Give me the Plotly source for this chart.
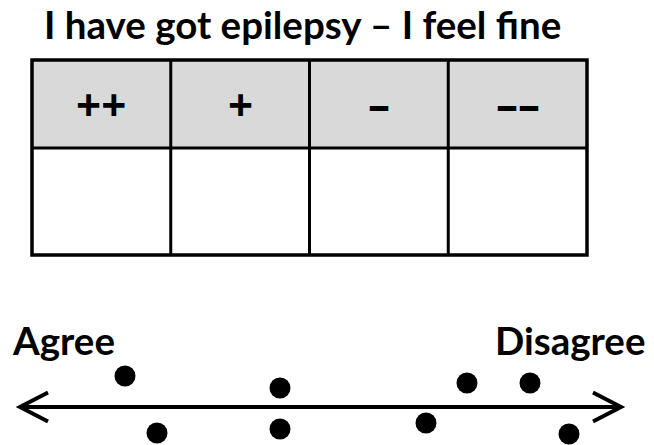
import plotly.graph_objects as go

# ---- data ----
title_text = "I have got epilepsy – I feel fine"
column_labels = ["++", "+", "–", "––"]
scale_labels = ["Agree", "Disagree"]
# responses placed along the Agree -> Disagree line (x) and above/below it (y)
dot_x = [125, 157, 280, 280, 426, 467, 530, 569]
dot_y = [376, 433, 388, 429, 423, 383, 383, 434]

# ---- layout constants ----
W, H = 654, 445
FONT = "Lato"
SYM_FONT = "Open Sans"
TABLE_L, TABLE_R = 32, 587
TABLE_T, TABLE_MID, TABLE_B = 60, 148, 255
ARROW_Y, ARROW_L, ARROW_R = 407, 20, 621
HEAD_DX, HEAD_DY = 28, 14.5

fig = go.Figure()

shapes = []
shapes.append(dict(type="rect", x0=TABLE_L, x1=TABLE_R, y0=TABLE_T, y1=TABLE_MID,
                   fillcolor="#d9d9d9", line=dict(width=0), layer="below"))
ncol = len(column_labels)
cw = (TABLE_R - TABLE_L) / ncol
for i in range(1, ncol):
    xx = TABLE_L + i * cw
    shapes.append(dict(type="line", x0=xx, x1=xx, y0=TABLE_T, y1=TABLE_B,
                       line=dict(color="black", width=3)))
shapes.append(dict(type="line", x0=TABLE_L, x1=TABLE_R, y0=TABLE_MID, y1=TABLE_MID,
                   line=dict(color="black", width=3)))
shapes.append(dict(type="rect", x0=TABLE_L, x1=TABLE_R, y0=TABLE_T, y1=TABLE_B,
                   line=dict(color="black", width=3.5)))

shapes.append(dict(type="line", x0=ARROW_L + 2, x1=ARROW_R - 2, y0=ARROW_Y, y1=ARROW_Y,
                   line=dict(color="black", width=4)))
shapes.append(dict(type="path",
                   path=f"M {ARROW_L+HEAD_DX} {ARROW_Y-HEAD_DY} L {ARROW_L} {ARROW_Y} L {ARROW_L+HEAD_DX} {ARROW_Y+HEAD_DY}",
                   line=dict(color="black", width=4)))
shapes.append(dict(type="path",
                   path=f"M {ARROW_R-HEAD_DX} {ARROW_Y-HEAD_DY} L {ARROW_R} {ARROW_Y} L {ARROW_R-HEAD_DX} {ARROW_Y+HEAD_DY}",
                   line=dict(color="black", width=4)))

fig.add_trace(go.Scatter(x=dot_x, y=dot_y, mode="markers",
                         marker=dict(color="black", size=21, line=dict(width=0)),
                         hoverinfo="skip", showlegend=False))

annotations = []
annotations.append(dict(x=42, y=24, xref="x", yref="y", text=f"<b>{title_text}</b>",
                        showarrow=False, xanchor="left", yanchor="middle",
                        font=dict(family=FONT, size=38.5, color="black")))
for i, lab in enumerate(column_labels):
    annotations.append(dict(x=TABLE_L + (i + 0.5) * cw, y=104, xref="x", yref="y",
                            text=f"<b>{lab}</b>", showarrow=False,
                            xanchor="center", yanchor="middle",
                            font=dict(family=SYM_FONT, size=44, color="black")))
annotations.append(dict(x=10, y=340, xref="x", yref="y", text=f"<b>{scale_labels[0]}</b>",
                        showarrow=False, xanchor="left", yanchor="middle",
                        font=dict(family=FONT, size=38.5, color="black")))
annotations.append(dict(x=647, y=340, xref="x", yref="y", text=f"<b>{scale_labels[1]}</b>",
                        showarrow=False, xanchor="right", yanchor="middle",
                        font=dict(family=FONT, size=38.5, color="black")))

fig.update_layout(
    width=W, height=H,
    margin=dict(l=0, r=0, t=0, b=0),
    paper_bgcolor="white", plot_bgcolor="white",
    xaxis=dict(range=[0, W], visible=False, fixedrange=True),
    yaxis=dict(range=[H, 0], visible=False, fixedrange=True),
    shapes=shapes, annotations=annotations,
)

fig.write_html("out.html", config={"displayModeBar": False, "staticPlot": True},
               post_script="document.body.style.margin='0';document.body.style.overflow='hidden';")
